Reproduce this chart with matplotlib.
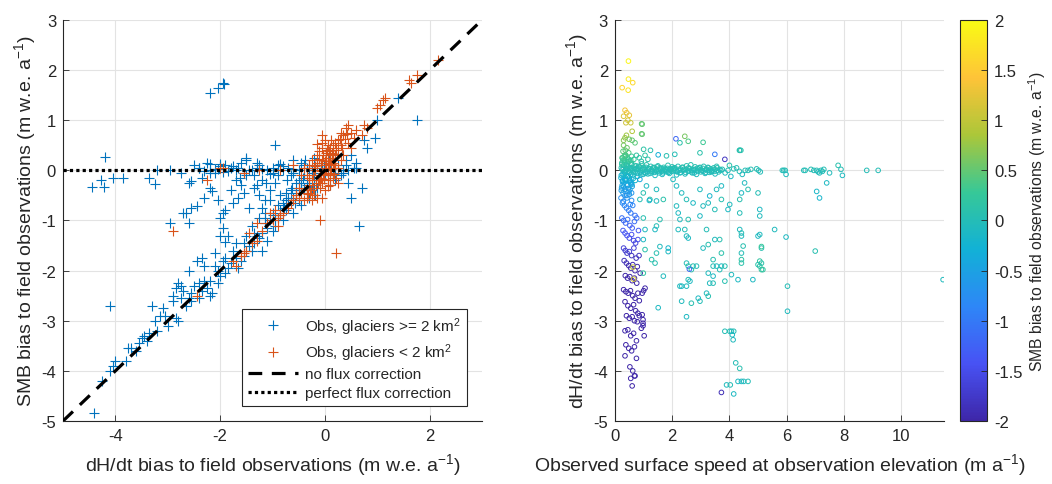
import matplotlib
matplotlib.use("Agg")
import matplotlib.pyplot as plt
from matplotlib.lines import Line2D
from matplotlib.colors import LinearSegmentedColormap, Normalize
from matplotlib.cm import ScalarMappable

plt.rcParams['font.family'] = ['Liberation Sans', 'DejaVu Sans']
plt.rcParams['mathtext.fontset'] = 'custom'
plt.rcParams['mathtext.rm'] = 'Liberation Sans'
plt.rcParams['mathtext.it'] = 'Liberation Sans:italic'
plt.rcParams['mathtext.bf'] = 'Liberation Sans:bold'
plt.rcParams['axes.unicode_minus'] = False

# ---------------- Left panel data ----------------
blue_x = [-1.95,-1.92,-2.05,-2.20,-4.20,-4.45,-4.28,-4.22,-4.05,-3.85,
          -3.35,-3.25,-3.20,-2.95,-2.75,-2.60,-2.55,-2.50,-2.40,-2.35,
          -2.25,-2.20,-2.15,-2.30,-2.05,-2.20,-2.10,-2.00,-1.90,-1.80,
          -1.70,-1.60,-1.50,-1.45,-1.35,-1.30,-1.20,-1.10,-1.00,-0.90,
          -0.80,-0.70,-0.60,-0.50,-0.40,-0.30,-2.65,-2.55,-2.70,-2.45,
          -2.60,-2.95,-1.95,-2.00,-1.90,-1.95,-1.85,-1.90,-1.45,-1.80,
          -1.70,-1.55,-1.60,-1.30,-1.25,-1.20,-1.15,-1.05,-0.95,-0.95,
          -0.85,-0.75,-1.35,-1.50,-1.75,-1.65,0.65,1.75,0.95,0.50,
          0.70,0.45,0.60,0.80,0.75,1.00,1.40,0.35,0.25,0.20,
          0.30,-0.50,-0.40,-0.35,-0.25,-0.20,-0.15,-0.10,-0.05,0.00,
          0.05,0.10,0.15,-0.30,-0.45,-0.55,-0.60,-0.65,-0.70,-0.80,
          -0.85,-0.90,-1.00,-1.05,-1.10,-0.95,-1.20,-1.25,-1.30,-1.35,
          -1.45,-1.50,-1.40,-1.55,-1.60,-1.65,-1.70,-1.80,-1.85,-1.90,
          -1.95,-2.00,-2.05,-2.10,-2.20,-2.15,-2.20,-2.30,-2.35,-2.40,
          -2.45,-2.50,-2.55,-2.60,-2.65,-2.70,-2.75,-2.80,-2.85,-2.80,
          -2.90,-3.00,-3.10,-3.15,-3.20,-3.30,-3.35,-3.40,-3.50,-3.55,
          -3.60,-3.70,-3.75,-3.80,-4.00,-4.05,-4.10,-4.25,-4.40,-4.10,
          -0.85,-0.75,-0.60,-0.50,-0.45,-0.35,-0.25,-0.20,-1.15,-1.00,
          -1.25,-1.40,-0.90,-1.05,-1.50,-1.70,-2.00,-2.10,-2.30,-2.60,
          -2.90,-3.45,-3.05,-1.20,-1.10,-0.80,-0.75,-0.65,-0.55,-0.30,
          -0.15,0.10,0.40,0.50,0.55,0.15,-1.55,-1.35,-1.15,-1.00,
          -0.70,-0.55,-0.40,-0.30,-0.20,-0.10,0.00,-0.50,-0.45,-0.35,
          -2.40,-2.20,-2.05,-1.85,-1.65,-1.40,-1.20,-1.00,-0.80,-0.60,
          -2.20,-2.00,-1.50,-1.30,-0.90,-0.60,-0.20,0.10,0.40,0.60,
          -2.85,-2.75,-3.25,-2.55,-2.40,-2.25,-2.05,-2.35,-1.90,-1.75,
          -2.30,-2.10,-1.95,-1.75,-1.55,-1.25,-1.05,-0.85,-0.65,-0.45,
          -0.25,-0.05,0.20,0.35,0.45,-1.62,-1.12,-0.72,-0.38,-0.18,
          -0.62,-0.42,-0.28,-0.12,-0.02,0.08,-0.78,-0.58,-0.95,-1.15]
blue_y = [1.75,1.72,1.65,1.55,0.27,-0.33,-0.20,-0.33,-0.15,-0.15,
          -0.15,-0.28,0.00,0.00,-0.05,-0.25,-0.22,0.10,0.05,-0.15,
          0.15,-0.35,-0.42,-0.55,-0.60,0.00,-0.05,0.08,0.10,0.05,
          0.00,0.15,0.20,0.00,-0.10,0.05,-0.20,0.00,0.05,-0.10,
          0.00,0.05,-0.05,0.00,0.10,0.05,-0.85,-0.75,-0.85,-0.72,
          -1.05,-1.05,-0.85,-0.95,-0.80,-1.15,-1.30,-1.42,-0.75,-0.40,
          -0.20,-0.45,-0.30,-0.30,-0.50,-0.75,-0.60,-0.40,-0.25,0.50,
          -0.50,-0.45,-0.35,-0.10,-0.65,-0.55,-1.10,1.00,0.65,-0.55,
          -0.35,-0.25,0.15,0.45,0.60,1.00,1.45,0.00,0.10,-0.20,
          -0.10,-0.20,-0.10,0.05,-0.05,0.00,0.10,-0.15,0.05,0.00,
          -0.10,0.05,-0.05,-0.25,-0.35,-0.45,-0.55,-0.60,-0.70,-0.65,
          -0.80,-0.95,-0.90,-1.00,-1.15,-1.10,-1.25,-1.35,-1.30,-1.45,
          -1.50,-1.60,-1.60,-1.70,-1.80,-1.95,-1.75,-1.85,-1.95,-2.05,
          -1.80,-2.10,-2.00,-1.65,-2.50,-2.45,-2.20,-2.20,-2.40,-2.55,
          -1.80,-2.30,-2.60,-2.55,-2.70,-2.40,-2.30,-2.25,-2.95,-3.00,
          -2.50,-3.10,-2.75,-2.90,-3.20,-2.70,-3.25,-3.40,-3.35,-3.45,
          -3.60,-3.55,-3.55,-3.80,-3.80,-3.90,-4.00,-4.20,-4.85,-2.70,
          -0.90,-0.80,-0.85,-0.60,-0.70,-0.45,-0.40,-0.30,-1.05,-1.20,
          -0.95,-1.10,-0.70,-0.60,-1.30,-1.45,-1.30,-1.90,-1.90,-2.00,
          -2.60,-3.30,-2.90,-1.60,-1.40,-1.00,-0.60,-0.40,-0.25,-0.55,
          -0.35,-0.30,0.20,0.30,0.05,0.20,-1.45,-1.25,-0.95,-0.85,
          -0.55,-0.50,-0.35,-0.20,-0.15,-0.05,-0.10,-0.40,-0.25,-0.30,
          0.05,-0.05,0.02,-0.02,0.05,0.00,0.02,-0.05,0.08,0.02,
          0.12,0.12,0.25,0.15,0.10,0.20,0.25,0.15,0.10,0.05,
          -2.35,-2.55,-3.00,-2.45,-2.25,-2.35,-2.25,-1.75,-1.75,-1.60,
          -0.02,0.03,-0.03,0.08,-0.05,0.10,-0.08,0.12,-0.10,0.15,
          0.00,0.15,0.05,-0.05,0.00,-0.15,-0.25,-0.20,0.20,-0.50,
          -0.35,-0.15,-0.40,-0.20,0.10,0.30,-0.75,-0.65,-1.00,-0.85]

orange_x = [0.00,0.05,-0.05,-0.10,0.10,-0.15,0.02,-0.20,-0.25,-0.30,
            -0.35,-0.20,-0.10,0.15,0.20,0.25,0.30,0.35,0.40,0.45,
            0.50,0.55,0.60,0.70,0.75,0.80,0.30,0.25,0.20,0.10,
            -0.05,-0.15,0.05,0.10,0.15,-0.05,-0.30,-0.40,-0.45,-0.50,
            -0.55,-0.60,-0.70,-0.80,-0.90,-1.00,-1.10,-1.20,-1.30,-1.40,
            -1.50,-1.55,-1.60,-1.70,-1.75,-0.85,-0.65,-0.35,-0.25,-0.10,
            0.22,-2.90,-2.25,-2.00,-1.95,-2.45,1.00,1.05,1.10,1.15,
            1.60,1.65,1.75,2.15,-0.60,-0.85,-1.25,-1.55,0.00,-0.05,
            0.10,0.00,-0.15,0.05,-0.08,0.12,-0.02,0.18,0.08,-0.12,
            0.20,-0.25,0.30,0.35,-0.30,0.25,-0.05,-0.40,-0.45,-0.50,
            -1.45,-1.30,-0.95,-1.05,-0.90,0.45,0.50,-0.12,0.06,-0.18,
            0.15,-0.08,0.02,-0.22,-0.15,0.12,-0.35,-0.28,0.25,0.05,
            0.03,-0.03,0.07,-0.07,0.13,-0.13,0.17,-0.17,0.22,-0.22,
            0.04,-0.04,0.09,-0.09,0.14,-0.11,0.01,-0.01,0.28,-0.27,
            0.06,0.16,-0.19,0.11,-0.06,0.21,-0.33,0.33,0.38,0.42]
orange_y = [0.00,0.10,0.20,-0.10,-0.05,0.30,0.35,0.05,-0.20,-0.30,
            -0.40,-0.50,-0.35,0.15,0.30,0.40,0.50,0.70,0.85,0.90,
            0.75,0.65,0.80,0.70,0.90,0.85,0.75,0.60,0.55,0.45,
            0.45,0.15,-0.20,-0.30,-0.15,-0.25,0.10,0.05,-0.10,-0.35,
            -0.50,-0.60,-0.75,-0.85,-0.95,-1.00,-1.05,-1.20,-1.40,-1.45,
            -1.60,-1.65,-1.70,-1.90,-1.80,-0.90,-0.65,-0.55,-0.60,-1.00,
            -1.65,-1.20,-0.20,0.05,0.05,-2.50,1.25,1.30,1.40,1.45,
            1.80,1.75,1.90,2.20,0.10,0.00,0.00,-0.05,0.60,0.70,
            0.25,-0.40,-0.55,0.25,0.10,0.02,-0.08,-0.08,0.38,0.38,
            0.10,0.20,0.20,0.30,-0.15,-0.25,-0.55,-0.60,-0.45,-0.55,
            -1.25,-1.05,-0.80,-0.85,-1.10,0.55,0.45,-0.20,0.50,0.00,
            0.32,-0.02,0.15,-0.35,0.52,0.60,-0.10,-0.45,0.05,-0.05,
            0.05,-0.05,0.15,-0.15,0.25,-0.25,0.05,-0.30,0.45,-0.10,
            0.40,0.30,-0.10,-0.20,0.35,0.22,0.18,-0.18,0.62,-0.40,
            -0.32,0.50,0.08,0.12,0.55,-0.15,-0.48,0.45,0.62,0.72]

# ---------------- Right panel data ----------------
# points in the near-zero dH/dt band
band_speed = [0.22,0.26,0.30,0.34,0.38,0.42,0.46,0.50,0.54,0.58,
              0.62,0.66,0.70,0.74,0.78,0.82,0.86,0.90,0.95,1.00,
              1.05,1.10,1.15,1.20,1.25,1.30,1.35,1.40,1.45,1.50,
              1.55,1.60,1.65,1.70,1.75,1.80,1.85,1.90,1.95,2.00,
              2.05,2.10,2.15,2.20,2.25,2.30,2.35,2.40,2.45,2.50,
              2.55,2.60,2.65,2.70,2.75,2.80,2.85,2.90,2.95,3.00,
              3.05,3.10,3.15,3.20,3.25,3.30,3.35,3.40,3.45,3.50,
              0.21,0.24,0.27,0.29,0.31,0.33,0.35,0.37,0.39,0.41,
              0.43,0.45,0.47,0.49,0.51,0.53,0.55,0.57,0.59,0.61,
              0.64,0.67,0.71,0.75,0.79,0.83,0.88,0.93,0.98,1.03,
              1.08,1.13,1.18,1.23,1.28,1.33,1.38,1.43,1.48,1.53,
              1.58,1.63,1.68,1.73,1.78,1.83,1.88,1.93,1.98,2.03,
              2.08,2.18,2.28,2.38,2.48,2.58,2.68,2.78,2.88,2.98,
              3.08,3.18,3.28,3.38,3.48,3.58,0.23,0.26,0.36,0.52,
              3.75,3.85,3.95,4.00,4.05,4.15,4.25,4.35,4.45,4.55,
              4.65,4.75,4.95,5.02,5.08,5.85,5.90,5.95,5.98,6.60,
              6.65,6.85,6.95,7.05,7.10,7.20,7.25,7.30,7.15,7.50,
              7.80,7.90,7.95,8.80,9.20,7.40,7.05,7.15,4.40,4.35,
              0.25,0.32,0.40,0.48,0.56,0.64,0.72,0.80,0.88,0.97,
              1.07,1.17,1.27,1.37,1.47,1.57,1.67,1.77,1.87,1.97,
              2.07,2.17,2.27,2.37,2.47,2.57,2.67,2.77,2.87,2.97,
              3.07,3.17,3.27,3.37,3.47,3.57,3.62,3.66,3.70,3.55]
band_dhdt = [0.05,-0.08,0.10,-0.02,0.03,-0.12,0.08,-0.05,0.00,0.12,
             -0.10,0.04,-0.03,0.09,-0.06,0.02,0.07,-0.09,0.01,0.06,
             -0.04,0.11,-0.07,0.03,0.08,-0.02,0.05,-0.10,0.00,0.09,
             -0.05,0.04,-0.08,0.06,0.02,-0.03,0.10,-0.06,0.03,0.07,
             -0.01,0.05,-0.09,0.08,0.00,-0.04,0.06,0.02,-0.07,0.09,
             -0.02,0.04,0.11,-0.05,0.01,0.07,-0.08,0.03,0.05,-0.03,
             0.00,0.08,-0.06,0.02,0.06,-0.04,0.03,-0.01,0.05,-0.07,
             -0.15,0.15,-0.20,0.02,-0.25,0.20,-0.05,0.00,-0.18,0.12,
             -0.30,0.06,-0.12,0.18,-0.22,0.03,-0.08,0.14,-0.28,0.00,
             -0.16,0.10,-0.20,0.04,-0.12,0.08,-0.03,0.13,-0.08,0.02,
             0.06,-0.02,0.03,-0.06,0.01,0.05,-0.04,0.02,0.07,-0.01,
             0.02,-0.02,0.03,-0.01,0.00,0.04,-0.03,0.01,-0.02,0.03,
             0.01,-0.02,0.03,0.00,0.02,-0.01,0.00,0.02,-0.02,0.01,
             -0.02,0.01,0.00,-0.02,0.02,0.00,-0.35,0.25,0.30,-0.38,
             0.02,-0.05,0.00,0.10,-0.12,0.03,0.05,-0.02,-0.08,0.00,
             0.00,0.02,0.03,0.00,-0.03,0.00,0.00,0.00,-0.08,0.00,
             0.00,0.02,0.00,0.00,-0.03,0.00,-0.02,0.02,-0.05,-0.05,
             0.10,0.02,-0.10,0.00,0.00,-0.25,-0.42,-0.55,0.40,0.40,
             0.02,-0.03,0.04,-0.02,0.03,-0.04,0.01,0.05,-0.05,0.03,
             -0.06,0.04,-0.03,0.06,-0.02,0.05,-0.05,0.03,-0.04,0.02,
             0.05,-0.03,-0.05,0.06,-0.04,0.05,-0.03,-0.05,0.04,0.06,
             0.04,-0.04,0.05,-0.03,-0.02,0.05,-0.03,0.02,0.00,0.08]
band_smb = [0.05,-0.10,0.10,-0.05,0.00,-0.15,0.08,-0.05,0.00,0.12,
            -0.12,0.02,-0.05,0.08,-0.06,0.00,0.05,-0.08,0.00,0.05,
            -0.03,0.10,-0.05,0.02,0.06,-0.02,0.04,-0.08,0.00,0.07,
            -0.04,0.03,-0.06,0.05,0.02,-0.02,0.08,-0.05,0.02,0.06,
            0.00,0.04,-0.07,0.06,0.00,-0.03,0.05,0.02,-0.05,0.07,
            -0.02,0.03,0.09,-0.04,0.00,0.05,-0.06,0.02,0.04,-0.02,
            0.00,0.06,-0.05,0.02,0.05,-0.03,0.02,0.00,0.04,-0.05,
            -0.25,0.20,-0.30,0.00,-0.35,0.25,-0.10,0.00,-0.25,0.15,
            -0.40,0.05,-0.15,0.20,-0.30,0.00,-0.10,0.15,-0.35,0.00,
            -0.20,0.08,-0.20,0.03,-0.12,0.06,-0.03,0.10,-0.08,0.02,
            0.05,-0.02,0.02,-0.05,0.00,0.04,-0.03,0.02,0.05,0.00,
            0.02,-0.02,0.02,0.00,0.00,0.03,-0.02,0.00,-0.02,0.02,
            0.00,-0.02,0.02,0.00,0.02,0.00,0.00,0.02,-0.02,0.00,
            -0.02,0.00,0.00,-0.02,0.02,0.00,-0.45,0.30,0.35,-0.45,
            0.00,-0.05,0.00,0.08,-0.10,0.02,0.04,0.00,-0.05,0.00,
            0.00,0.02,0.02,0.00,-0.02,0.00,0.00,0.00,-0.05,0.00,
            0.00,0.02,0.00,0.00,-0.02,0.00,-0.02,0.02,-0.04,-0.04,
            0.08,0.00,-0.08,0.00,0.00,-0.10,-0.15,-0.20,0.10,0.10,
            0.00,-0.03,0.03,-0.02,0.02,-0.04,0.00,0.04,-0.05,0.02,
            -0.05,0.03,-0.03,0.05,-0.02,0.04,-0.05,0.02,-0.04,0.02,
            0.04,-0.03,-0.05,0.05,-0.04,0.04,-0.03,-0.05,0.03,0.05,
            0.03,-0.04,0.04,-0.03,-0.02,0.04,-0.03,0.02,0.00,0.06]

# slow points (low observed speed)
slow_speed = [0.47,0.47,0.62,0.46,0.25,0.35,0.41,0.50,0.30,0.45,
              0.55,0.38,0.60,0.40,0.35,0.30,0.50,0.30,0.42,0.36,
              0.28,0.32,0.42,0.95,0.95,0.70,0.60,0.48,0.38,0.55,
              0.25,0.33,0.44,0.58,0.66,0.75,0.85,0.92,1.05,1.15,
              0.22,0.28,0.35,0.42,0.50,0.58,0.26,0.33,0.40,0.48,
              0.55,0.62,0.70,0.24,0.30,0.37,0.44,0.52,0.60,0.68,
              0.76,0.82,0.28,0.35,0.42,0.50,0.58,0.65,0.72,0.80,
              0.30,0.36,0.42,0.50,0.58,0.66,0.74,0.84,0.32,0.40,
              0.48,0.55,0.62,0.70,0.78,0.88,0.36,0.44,0.52,0.60,
              0.68,0.76,0.30,0.38,0.46,0.54,0.62,0.70,0.80,0.35,
              0.45,0.55,0.65,0.72,0.85,0.40,0.50,0.60,0.68,0.78,
              0.95,0.98,0.35,0.45,0.55,0.65,0.75,0.92,0.38,0.48,
              0.58,0.68,0.75,0.35,0.52,0.62,0.70,0.55,0.60,0.68,
              0.98,1.02,1.00,0.95,1.05,0.98,0.80,0.85,0.63,0.65,
              0.22,0.26,0.30,0.34,0.38,0.42,0.46,0.50,0.54,0.58,
              0.24,0.28,0.32,0.36,0.40,0.44,0.48,0.52,0.56,0.60,
              0.21,0.25,0.29,0.33,0.37,0.41,0.45,0.49,0.53,0.57]
slow_dhdt = [2.18,1.82,1.75,1.60,1.65,1.20,1.15,1.10,1.08,1.00,
             0.95,0.95,0.78,0.70,0.65,0.60,0.62,0.50,0.45,0.40,
             0.38,0.28,0.25,0.92,0.72,0.55,0.60,0.35,0.30,0.20,
             0.25,0.15,0.18,0.28,0.22,0.30,0.25,0.18,0.30,0.22,
             -0.40,-0.45,-0.50,-0.55,-0.48,-0.60,-0.65,-0.70,-0.75,-0.80,
             -0.85,-0.70,-0.90,-0.95,-1.00,-1.05,-0.98,-1.10,-1.15,-1.02,
             -0.95,-1.20,-1.20,-1.25,-1.30,-1.35,-1.28,-1.40,-1.45,-1.38,
             -1.55,-1.60,-1.65,-1.62,-1.70,-1.55,-1.75,-1.70,-1.80,-1.85,
             -1.90,-1.95,-1.88,-2.00,-1.92,-2.05,-2.10,-2.15,-2.12,-2.20,
             -2.15,-2.25,-2.38,-2.42,-2.45,-2.40,-2.50,-2.55,-2.45,-2.62,
             -2.70,-2.75,-2.68,-2.80,-2.60,-2.90,-2.95,-2.92,-3.00,-3.02,
             -2.88,-2.98,-3.20,-3.18,-3.30,-3.25,-3.40,-3.15,-3.48,-3.55,
             -3.60,-3.52,-3.75,-3.70,-3.92,-4.00,-4.10,-4.15,-4.30,-4.10,
             -3.10,-3.30,-2.40,-2.45,-2.35,-3.05,-2.85,-2.90,-1.93,-2.17,
             -0.10,-0.22,-0.32,-0.18,-0.42,-0.28,-0.36,-0.15,-0.25,-0.45,
             0.12,0.20,-0.08,0.28,0.10,-0.12,0.22,-0.20,0.05,-0.32,
             -0.55,-0.30,-0.62,-0.38,-0.20,-0.50,-0.12,-0.42,-0.68,-0.26]
slow_smb = [1.95,1.85,1.65,1.75,1.60,1.35,1.30,1.25,1.20,1.15,
            1.05,1.10,0.90,0.80,0.75,0.70,0.60,0.60,0.55,0.50,
            0.45,0.40,0.35,0.50,0.50,0.45,0.50,0.40,0.40,0.30,
            0.35,0.25,0.25,0.30,0.25,0.20,0.15,0.12,0.15,0.10,
            -0.55,-0.60,-0.65,-0.70,-0.60,-0.75,-0.80,-0.85,-0.90,-0.95,
            -1.00,-0.85,-1.05,-1.10,-1.15,-1.20,-1.10,-1.25,-1.30,-1.15,
            -1.10,-1.35,-1.35,-1.40,-1.45,-1.50,-1.45,-1.55,-1.60,-1.50,
            -1.65,-1.70,-1.75,-1.70,-1.80,-1.65,-1.85,-1.80,-1.85,-1.90,
            -1.95,-2.00,-1.95,-2.00,-1.95,-2.00,-2.00,-2.00,-2.00,-2.00,
            -2.00,-2.00,-2.00,-2.00,-2.00,-2.00,-2.00,-2.00,-2.00,-2.00,
            -2.00,-2.00,-2.00,-2.00,-2.00,-2.00,-2.00,-2.00,-2.00,-2.00,
            -2.00,-2.00,-2.00,-2.00,-2.00,-2.00,-2.00,-2.00,-2.00,-2.00,
            -2.00,-2.00,-2.00,-2.00,-2.00,-2.00,-2.00,-2.00,-2.00,-2.00,
            -2.00,-2.00,-2.00,-2.00,-2.00,-2.00,-2.00,-2.00,1.00,1.10,
            -0.25,-0.40,-0.50,-0.30,-0.60,-0.45,-0.55,-0.25,-0.40,-0.65,
            0.15,0.25,-0.15,0.35,0.12,-0.20,0.28,-0.35,0.05,-0.50,
            -0.75,-0.45,-0.80,-0.55,-0.35,-0.70,-0.20,-0.60,-0.85,-0.40]

# scattered faster points
fast_speed = [0.93,0.93,2.13,2.27,2.44,2.56,3.08,4.36,3.84,3.49,
              1.51,1.24,1.00,1.80,2.09,2.97,1.10,1.45,0.99,1.22,
              0.87,1.45,1.69,2.03,2.15,2.33,2.50,2.73,2.15,2.21,
              2.27,2.56,2.97,3.08,3.26,3.49,3.72,3.95,4.01,4.36,
              4.42,4.65,4.53,5.00,5.06,5.06,4.36,3.72,3.55,3.31,
              2.97,1.45,1.57,1.40,0.99,1.05,0.99,1.05,1.57,1.45,
              1.86,1.86,1.28,1.40,0.99,1.69,1.51,2.21,2.44,2.50,
              2.56,3.20,3.08,3.26,3.49,3.66,3.72,3.43,3.43,3.55,
              3.72,3.84,3.66,3.26,3.43,3.31,3.43,3.84,4.07,4.30,
              4.82,4.36,4.42,4.42,4.48,4.42,4.42,4.42,5.00,5.06,
              5.12,5.12,5.06,5.12,5.06,5.12,5.17,5.00,5.58,5.98,
              6.03,6.03,7.00,11.47,2.50,2.56,2.73,2.85,2.67,2.27,
              2.33,2.50,2.56,2.62,2.67,2.33,2.91,2.97,3.20,3.26,
              2.50,3.84,4.01,4.07,4.15,4.10,4.13,4.22,4.36,4.30,
              4.42,4.50,4.65,3.90,4.03,4.15,3.72,2.60,0.87,1.20]
fast_dhdt = [0.93,0.73,0.63,0.55,0.68,0.58,0.56,0.40,0.22,0.32,
             0.31,0.40,0.42,0.29,0.32,0.35,-0.31,-0.38,-0.45,-0.58,
             -0.58,-0.61,-0.58,-0.18,-0.31,-0.45,-0.58,-0.65,-0.71,-0.85,
             -0.98,-0.98,-0.91,-0.71,-0.65,-0.78,-0.58,-0.78,-0.68,-0.58,
             -0.45,-0.38,-0.25,-0.45,-0.78,-0.91,-0.85,-0.31,-0.38,-0.51,
             -0.38,-1.11,-0.98,-1.18,-0.95,-1.18,-1.38,-1.58,-1.52,-1.65,
             -1.55,-1.62,-1.78,-1.85,-2.05,-2.11,-2.74,-1.18,-1.18,-1.31,
             -1.35,-1.18,-1.55,-1.48,-1.38,-1.38,-1.65,-1.78,-1.91,-1.91,
             -1.91,-1.91,-1.98,-2.05,-2.11,-2.25,-2.25,-2.21,-2.08,-2.18,
             -2.18,-1.18,-1.25,-1.31,-1.51,-1.65,-1.78,-1.85,-1.31,-1.28,
             -1.55,-1.52,-1.81,-1.85,-1.91,-1.98,-1.98,-1.88,-1.18,-1.33,
             -2.31,-2.81,-1.61,-2.18,-1.85,-1.91,-1.91,-1.91,-1.98,-2.31,
             -2.31,-2.31,-2.18,-2.21,-2.65,-2.61,-2.55,-2.61,-2.45,-2.51,
             -2.92,-3.21,-3.21,-3.21,-3.21,-3.28,-3.38,-3.84,-3.95,-4.21,
             -4.21,-4.21,-4.21,-4.28,-4.28,-4.46,-4.43,-1.97,-0.18,-0.60]
fast_smb = [0.50,0.50,-1.20,0.10,0.60,0.40,0.30,0.05,-1.80,-1.00,
            -0.30,0.05,0.15,0.05,0.00,0.10,-0.10,-0.05,0.05,0.10,
            0.00,-0.05,0.10,-0.05,-0.10,-0.05,0.00,-0.10,-0.05,-0.10,
            -0.05,0.05,-0.10,-0.05,-0.05,0.00,0.05,-0.10,-0.05,0.05,
            -0.10,0.05,-0.05,0.00,-0.10,-0.05,0.00,-0.10,-0.05,-0.20,
            -0.05,0.00,0.05,-0.10,0.05,-0.05,-0.10,0.10,-0.05,0.05,
            -0.20,-0.10,0.10,0.05,0.20,-0.05,-0.10,-0.05,0.00,-0.05,
            -0.10,0.00,-0.05,0.05,-0.05,0.05,0.10,0.05,0.00,-0.05,
            -0.10,0.05,0.00,-0.05,-0.10,-0.05,0.00,0.05,-0.05,-0.10,
            -0.10,-0.05,0.00,-0.05,0.05,0.00,0.15,0.10,-0.10,-0.05,
            0.05,0.25,0.20,0.10,0.15,0.20,0.20,0.10,-0.05,-0.10,
            0.00,-0.05,0.05,-0.05,0.00,0.10,0.05,0.00,0.10,-0.05,
            -0.10,-0.05,0.00,-0.10,0.05,-0.05,-0.10,0.00,-0.05,0.05,
            -0.10,0.00,0.05,-0.05,0.00,-0.10,-0.05,0.00,0.05,-0.10,
            -0.10,-0.05,0.00,-0.05,0.00,-0.10,-1.90,-1.20,-0.40,-0.20]

# ---------------- Styling ----------------
text_c = '#262626'
grid_c = '#e3e3e3'
blue_c = (0.0, 0.447, 0.741)
orange_c = (0.85, 0.325, 0.098)

parula_list = [
    (0.2422, 0.1504, 0.6603), (0.2810, 0.3228, 0.9579), (0.1786, 0.5289, 0.9682),
    (0.0689, 0.6948, 0.8394), (0.2161, 0.7843, 0.5923), (0.6720, 0.7793, 0.2227),
    (0.9970, 0.7659, 0.2199), (0.9769, 0.9839, 0.0805)]
parula = LinearSegmentedColormap.from_list('parula', parula_list, N=256)
norm = Normalize(vmin=-2, vmax=2)

fig = plt.figure(figsize=(10.52, 4.85), dpi=100)
ax1 = fig.add_axes([0.0599, 0.1299, 0.3983, 0.8268])
ax2 = fig.add_axes([0.5846, 0.1299, 0.3127, 0.8268])
cax = fig.add_axes([0.9125, 0.1299, 0.0257, 0.8268])

def style_axes(ax):
    for s in ['top', 'right']:
        ax.spines[s].set_visible(False)
    for s in ['left', 'bottom']:
        ax.spines[s].set_color(text_c)
        ax.spines[s].set_linewidth(0.8)
    ax.tick_params(direction='in', length=4, width=0.6, colors=text_c,
                   labelsize=12, pad=5)
    ax.grid(True, color=grid_c, linewidth=0.8)
    ax.set_axisbelow(True)

# Left panel
style_axes(ax1)
ax1.set_xlim(-5, 3)
ax1.set_ylim(-5, 3)
ax1.set_xticks([-4, -2, 0, 2])
ax1.set_yticks([-5, -4, -3, -2, -1, 0, 1, 2, 3])
ax1.plot(blue_x, blue_y, linestyle='none', marker='+', markersize=7.5,
         markeredgewidth=0.8, color=blue_c, zorder=3)
ax1.plot(orange_x, orange_y, linestyle='none', marker='+', markersize=7.5,
         markeredgewidth=0.8, color=orange_c, zorder=3)
ax1.plot([-5, 3], [-5, 3], color='black', linewidth=2.3,
         linestyle=(0, (4.3, 3.0)), zorder=4)
ax1.plot([-5, 3], [0, 0], color='black', linewidth=2.3,
         linestyle=(0, (1.0, 1.0)), zorder=4)
ax1.set_xlabel('dH/dt bias to field observations (m w.e. a$^{-1}$)',
               fontsize=14, color=text_c, labelpad=6)
ax1.set_ylabel('SMB bias to field observations (m w.e. a$^{-1}$)',
               fontsize=14, color=text_c, labelpad=2)

handles = [
    Line2D([], [], linestyle='none', marker='+', markersize=7, markeredgewidth=0.8, color=blue_c),
    Line2D([], [], linestyle='none', marker='+', markersize=7, markeredgewidth=0.8, color=orange_c),
    Line2D([], [], color='black', linewidth=2.3, linestyle=(0, (4.3, 3.0))),
    Line2D([], [], color='black', linewidth=2.3, linestyle=(0, (1.0, 1.0))),
]
labels = ['Obs, glaciers >= 2 km$^2$', 'Obs, glaciers < 2 km$^2$',
          'no flux correction', 'perfect flux correction']
leg = ax1.legend(handles, labels, loc='lower right', bbox_to_anchor=(0.964, 0.037),
                 borderaxespad=0, fontsize=11, frameon=True, fancybox=False,
                 framealpha=1, edgecolor=text_c, handlelength=3.3,
                 handletextpad=0.45, labelspacing=0.3, borderpad=0.4)
leg.get_frame().set_linewidth(0.8)
for t in leg.get_texts():
    t.set_color(text_c)

# Right panel
style_axes(ax2)
ax2.set_xlim(0, 11.5)
ax2.set_ylim(-5, 3)
ax2.set_xticks([0, 2, 4, 6, 8, 10])
ax2.set_yticks([-5, -4, -3, -2, -1, 0, 1, 2, 3])
for sp, dh, sm in [(band_speed, band_dhdt, band_smb),
                   (slow_speed, slow_dhdt, slow_smb),
                   (fast_speed, fast_dhdt, fast_smb)]:
    n = min(len(sp), len(dh), len(sm))
    cols = parula(norm(sm[:n]))
    ax2.scatter(sp[:n], dh[:n], s=11, facecolors='none', edgecolors=cols,
                linewidths=0.7, zorder=3)
ax2.set_xlabel('Observed surface speed at observation elevation (m a$^{-1}$)',
               fontsize=14, color=text_c, labelpad=6)
ax2.set_ylabel('dH/dt bias to field observations (m w.e. a$^{-1}$)',
               fontsize=14, color=text_c, labelpad=2)

# Colorbar
sm_ = ScalarMappable(norm=norm, cmap=parula)
cb = fig.colorbar(sm_, cax=cax)
cb.set_ticks([-2, -1.5, -1, -0.5, 0, 0.5, 1, 1.5, 2])
cb.set_ticklabels(['-2', '-1.5', '-1', '-0.5', '0', '0.5', '1', '1.5', '2'])
cb.ax.tick_params(direction='in', length=4, width=0.6, colors=text_c,
                  labelsize=12, pad=5)
cb.outline.set_edgecolor(text_c)
cb.outline.set_linewidth(0.8)
cb.set_label('SMB bias to field observations (m w.e. a$^{-1}$)', fontsize=11.3,
             color=text_c, labelpad=3)

fig.savefig('out.png', dpi=100)
